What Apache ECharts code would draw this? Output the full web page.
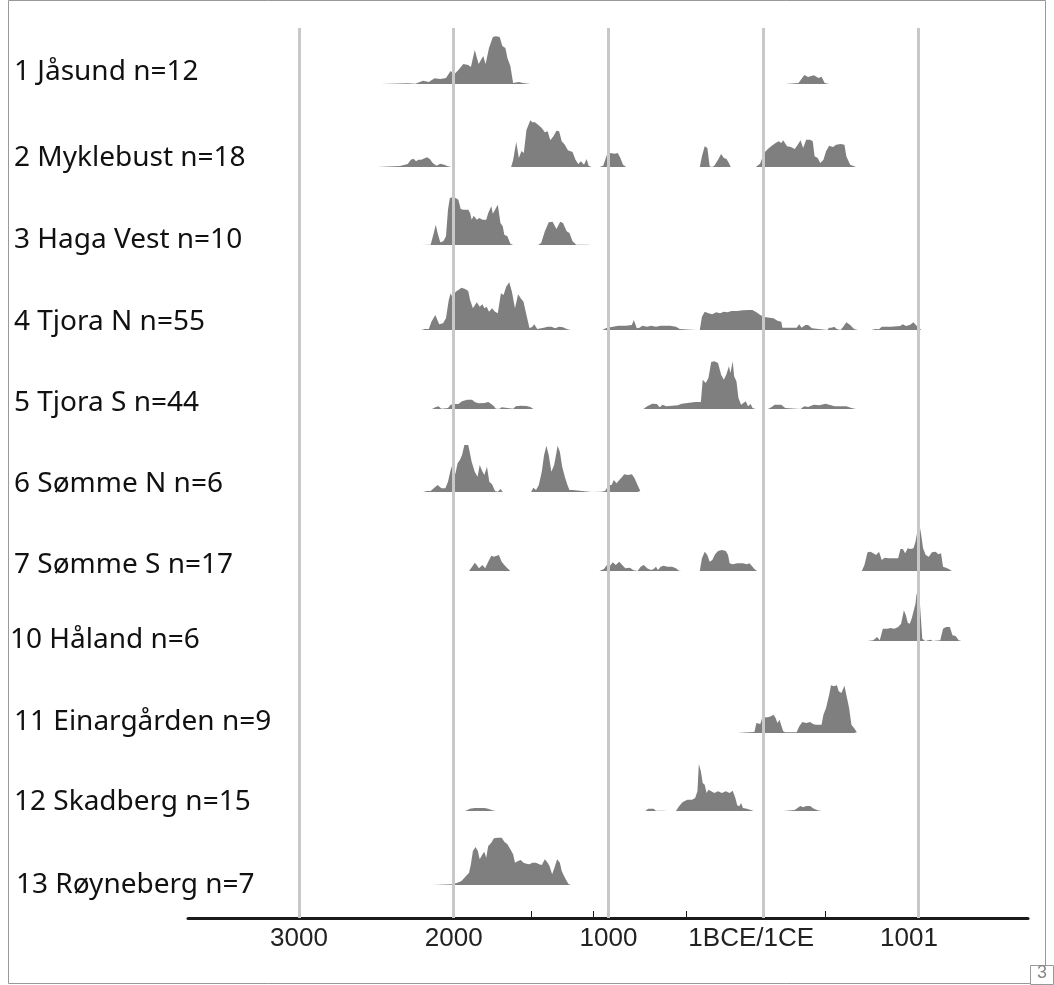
<!DOCTYPE html>
<html><head><meta charset="utf-8">
<script src="https://cdn.jsdelivr.net/npm/echarts@6/dist/echarts.min.js"></script>
<style>html,body{margin:0;padding:0;background:#fff}#c{width:1054px;height:985px}</style>
</head><body><div id="c"></div>
<script>
// ---- DATA (years: negative = BCE, positive = CE; values = relative summed probability) ----
const siteLabels = ['1 Jåsund n=12','2 Myklebust n=18','3 Haga Vest n=10','4 Tjora N n=55','5 Tjora S n=44','6 Sømme N n=6','7 Sømme S n=17','10 Håland n=6','11 Einargården n=9','12 Skadberg n=15','13 Røyneberg n=7'];
const tickValues = [-3000,-2000,-1000,0,1000];
const tickLabels = ['3000','2000','1000','1BCE/1CE','1001'];
const minorTickValues = [-1500,-1100,-500,400];

const jasund = [[-2470,0],[-2297,0.7],[-2248,0.3],[-2198,3.3],[-2161,2],[-2124,5.7],[-2087,5],[-2050,6],[-2020,13],[-1995,10],[-1970,14],[-1938,20],[-1906,19],[-1889,17],[-1864,34],[-1839,20],[-1809,28],[-1794,20],[-1772,36],[-1747,47],[-1728,47.7],[-1703,47],[-1686,38],[-1666,36],[-1653,26],[-1634,18],[-1616,1],[-1579,2],[-1554,1],[-1505,0],
 [142,0],[228,1],[266,9],[290,7],[327,8.7],[357,6],[377,7.3],[397,1],[426,0]];
const myklebust = [[-2495,0],[-2347,1],[-2297,3],[-2277,7.3],[-2260,8.3],[-2243,5.7],[-2228,7.3],[-2210,7.3],[-2198,9],[-2173,9.7],[-2154,8],[-2136,4],[-2111,1.3],[-2087,3.3],[-2062,2.3],[-2037,0.7],[-2012,0],
 [-1629,0],[-1616,7],[-1596,25],[-1579,9],[-1562,16],[-1547,14],[-1530,37],[-1505,46.7],[-1492,44.7],[-1475,44.7],[-1455,42.3],[-1431,39],[-1411,34.7],[-1393,35.7],[-1376,26.7],[-1356,30.7],[-1336,36.3],[-1319,35.7],[-1302,25.7],[-1282,22.3],[-1262,16.7],[-1232,15],[-1213,7.3],[-1195,3],[-1178,5.7],[-1158,2.3],[-1141,8],[-1128,1.3],[-1109,0],
 [-1059,0],[-1034,1.3],[-1010,12.3],[-990,14],[-960,13.3],[-940,14],[-923,9],[-906,2.3],[-886,0],
 [-410,0],[-396,10.7],[-378,20.7],[-361,19],[-346,0.7],[-330,0],[-316,1.3],[-292,7.3],[-272,13],[-254,9],[-237,8],[-222,4],[-210,0],
 [-49,0],[-20,3.3],[5,14],[30,18],[55,21.3],[80,24],[100,25.7],[117,24],[129,26.7],[154,20.7],[179,20],[204,18],[223,22.3],[241,26.7],[258,19],[278,27.3],[303,27.3],[320,25.7],[332,10.7],[352,9],[369,4],[389,7.3],[406,15.7],[426,21.3],[451,20],[471,22.3],[500,23],[525,22.3],[537,10.7],[562,2.3],[600,0]];
const hagaVest = [[-2210,0],[-2149,0.3],[-2129,12],[-2116,20.3],[-2104,12],[-2087,2.7],[-2067,3.7],[-2050,8.7],[-2037,35.3],[-2025,47],[-2005,48],[-1988,47],[-1970,45.3],[-1955,36],[-1938,35.3],[-1906,35.3],[-1894,32],[-1884,25.3],[-1871,29.3],[-1851,25.3],[-1834,27],[-1814,25.3],[-1790,25.3],[-1777,32],[-1757,38.7],[-1747,31.3],[-1733,35.3],[-1715,40.3],[-1698,22],[-1683,18.7],[-1673,10.3],[-1653,8.7],[-1634,1.3],[-1616,0],
 [-1455,0],[-1435,2],[-1411,13.7],[-1386,22.7],[-1361,23.3],[-1336,16],[-1312,23.3],[-1294,22],[-1270,13.7],[-1252,12],[-1232,3.7],[-1208,0.3],[-1134,0.3],[-1120,0]];
const tjoraN = [[-2210,0],[-2186,1],[-2161,1],[-2144,8.3],[-2119,15],[-2094,5.7],[-2069,6.7],[-2050,11.7],[-2032,30],[-2020,36.7],[-2005,31.7],[-1988,38.3],[-1970,40],[-1950,42.3],[-1926,41],[-1906,39],[-1894,30],[-1876,21.7],[-1851,27.7],[-1832,23.3],[-1814,25.7],[-1802,21.7],[-1787,23.3],[-1772,18.3],[-1752,21.7],[-1733,18.3],[-1715,16.7],[-1695,36.7],[-1678,35],[-1661,43.3],[-1641,47.7],[-1624,38.3],[-1604,21.7],[-1584,35.7],[-1567,31.7],[-1549,28.3],[-1530,15],[-1510,1.7],[-1492,3.3],[-1480,5.7],[-1460,1],[-1418,2.3],[-1393,3.3],[-1369,3.3],[-1344,1.7],[-1319,3.3],[-1294,2.7],[-1270,1],[-1245,0],
 [-1040,0],[-1029,0.3],[-1010,2.3],[-972,3.3],[-935,4.3],[-886,4.3],[-849,5],[-836,10],[-817,1.7],[-799,2.3],[-782,4.3],[-750,3.3],[-725,4.3],[-693,3.3],[-663,4.3],[-638,4.3],[-601,4.3],[-564,3.3],[-539,1],[-465,0.3],[-428,0],
 [-410,0],[-396,13.3],[-378,18.3],[-354,16.7],[-329,15.7],[-304,17.7],[-279,16.7],[-254,18.3],[-230,17.7],[-205,19],[-168,19],[-131,19.7],[-94,20],[-69,20],[-44,17.7],[-19,15],[5,13],[43,12.3],[67,11.7],[92,9.3],[117,8.3],[124,2.3],[179,2.3],[216,2.3],[233,5.7],[248,2.3],[273,5],[290,5],[315,1.7],[327,0],
 [414,0],[426,2.3],[443,2.3],[458,3.3],[476,1],[500,0],[517,3.3],[537,7.7],[562,5],[587,1],[612,0],
 [699,0],[724,1],[748,0.7],[766,3.3],[823,3.3],[885,4],[902,5.7],[922,4],[947,5],[971,7.7],[991,4.3],[1008,2.3],[1021,0]];
const tjoraS = [[-2140,0],[-2119,1.7],[-2099,2.7],[-2079,0.3],[-2037,1],[-2020,4.3],[-1995,5],[-1970,5],[-1946,7.7],[-1913,9.3],[-1881,9.3],[-1864,7],[-1839,5.7],[-1827,7],[-1802,6],[-1777,7],[-1757,5],[-1740,2.7],[-1728,0.3],[-1703,0.3],[-1690,1.7],[-1678,0],[-1616,0.3],[-1599,2.7],[-1567,3.3],[-1530,3],[-1505,2],[-1485,0],
 [-774,0],[-750,2.7],[-717,5.3],[-688,5],[-668,1.7],[-651,4.3],[-626,2.7],[-589,3.3],[-552,3.7],[-527,5.3],[-490,6],[-440,7],[-403,7],[-391,29.3],[-371,26],[-354,31],[-336,47],[-316,47.7],[-292,46],[-272,34.3],[-254,29.3],[-237,35],[-222,42.7],[-212,36],[-197,47.7],[-188,32.7],[-173,27.7],[-160,11],[-143,4.3],[-131,2.7],[-113,7.7],[-98,2.7],[-81,5],[-69,1],[-49,0],
 [30,0],[55,2],[74,4.3],[117,4.3],[142,1],[154,0],[241,0],[266,2.7],[290,2],[327,4.3],[364,3.7],[402,5.3],[426,4.3],[463,2.7],[537,2.7],[570,1],[600,0]];
const sommeN = [[-2198,0],[-2173,1],[-2149,1],[-2129,3.7],[-2104,7],[-2079,3.7],[-2054,3.7],[-2037,10.3],[-2020,22],[-2005,28.7],[-1990,17.7],[-1975,28.7],[-1960,32],[-1946,37],[-1931,47],[-1906,47],[-1894,45.3],[-1884,30.3],[-1864,20.3],[-1846,15.3],[-1832,27],[-1814,20.3],[-1802,17],[-1785,25.3],[-1770,10.3],[-1752,7.7],[-1733,1],[-1715,0.3],[-1698,3],[-1683,0],
 [-1500,0],[-1485,4.3],[-1468,2],[-1450,7],[-1431,20.3],[-1416,37],[-1401,46.3],[-1386,37],[-1369,20.3],[-1351,27],[-1339,37],[-1329,46.3],[-1314,40.3],[-1299,25.3],[-1282,15.3],[-1265,7],[-1252,2],[-1232,2],[-1220,0],
 [-1109,0],[-1047,0.3],[-1022,1],[-997,7],[-980,7],[-965,12],[-948,8.7],[-930,12],[-911,15.3],[-898,17.7],[-873,17],[-849,17.7],[-831,13.7],[-812,7],[-794,1],[-782,0]];
const sommeS = [[-1901,0],[-1881,4.3],[-1864,8.3],[-1851,6],[-1837,2.7],[-1814,6],[-1797,2.7],[-1777,9.3],[-1757,15.3],[-1740,14.3],[-1728,16],[-1708,16],[-1690,9.3],[-1673,6],[-1653,2.7],[-1634,0],
 [-1059,0],[-1029,2],[-1010,6],[-990,5.3],[-972,8.7],[-953,6],[-930,9.3],[-911,6],[-891,2.7],[-861,3.3],[-841,1],[-812,0],[-792,4.3],[-772,6],[-750,2.7],[-725,1],[-708,2],[-693,4.3],[-680,1],[-663,4.3],[-643,5.3],[-619,4.3],[-589,4.3],[-564,2.7],[-544,0.3],[-527,0],
 [-410,0],[-396,12.7],[-378,19.3],[-361,16],[-346,9.3],[-329,11],[-311,16.7],[-292,20],[-267,21],[-242,20],[-227,16],[-217,7.7],[-197,6.7],[-168,7.7],[-131,7.7],[-106,6.7],[-89,7.7],[-69,4.3],[-57,2],[-40,0],
 [637,0],[654,6],[674,18.7],[694,19.3],[711,17.7],[729,16],[748,19.3],[766,11],[785,13.3],[810,12.7],[835,12.7],[872,12.7],[887,22],[902,22],[917,17.7],[934,22.7],[951,22],[971,22.7],[984,29.3],[996,39.3],[1008,47.7],[1021,36],[1033,22.7],[1050,16],[1070,14.3],[1090,18.7],[1114,19.3],[1132,16.7],[1149,17.7],[1162,4.3],[1181,3.3],[1199,2],[1219,0]];
const haland = [[674,0],[711,0.7],[736,4],[753,0.7],[773,12.3],[785,14],[802,12.3],[822,13],[847,12.3],[872,14],[891,17.3],[909,30.7],[922,25.7],[934,18.3],[947,17.3],[959,22.3],[971,24],[984,37.3],[991,47.3],[1001,44],[1011,40.7],[1021,39],[1028,2.3],[1046,0],[1058,1.7],[1082,1.3],[1095,0],[1144,0.7],[1162,12.3],[1181,14],[1206,14],[1223,5.7],[1243,5],[1263,0.7],[1281,0]];
const einargarden = [[-168,0],[-94,0.7],[-57,1],[-44,10],[-32,11.7],[-19,9],[-7,15],[11,15.7],[30,15.7],[50,16.7],[67,18.3],[80,15],[92,10],[105,13.3],[117,11.7],[129,1.7],[142,0.7],
 [216,0.7],[233,6.7],[253,11],[278,10],[303,11],[322,9],[340,8.3],[357,8.3],[377,8.3],[389,18.3],[406,25],[426,38.3],[438,47.7],[456,46.7],[476,47.7],[488,41.7],[505,40],[525,47.3],[537,38.3],[555,25],[570,8.3],[587,5],[605,0.7],[615,0]];
const skadberg = [[-1930,0],[-1913,0.7],[-1896,2.3],[-1864,3],[-1802,3],[-1777,2.3],[-1752,0.7],[-1728,0],
 [-762,0],[-743,2.3],[-708,2.3],[-693,0.3],[-670,0.3],[-663,2],[-651,0.3],[-620,0],
 [-564,0],[-544,4.7],[-520,9],[-490,11.3],[-460,11.3],[-440,13],[-425,19.7],[-416,47],[-403,39.7],[-391,28],[-378,26.3],[-366,18],[-354,21.3],[-336,19.7],[-316,18],[-292,19.7],[-267,18],[-242,19.7],[-217,18],[-197,20.3],[-180,13],[-168,5.7],[-155,4.7],[-143,8],[-131,3],[-106,2.3],[-81,1],[-62,0],
 [129,0],[204,1],[228,3.7],[241,5],[258,3.7],[278,5],[303,5],[327,2.3],[352,0.7],[377,0]];
const royneberg = [[-2136,0],[-2012,0.7],[-1975,2.3],[-1950,4],[-1926,8],[-1901,12.3],[-1889,20.7],[-1876,34],[-1859,38],[-1844,34],[-1832,25.7],[-1814,30.7],[-1802,33.3],[-1790,27.3],[-1777,39],[-1757,42.3],[-1740,46.7],[-1715,47.3],[-1690,47.3],[-1673,43.3],[-1653,40.7],[-1634,35.7],[-1616,30.7],[-1604,22.3],[-1584,24],[-1567,25],[-1549,22.3],[-1530,21.3],[-1510,20.7],[-1492,22.3],[-1468,22.3],[-1448,20.7],[-1431,20],[-1411,25.7],[-1393,22.3],[-1381,19],[-1364,10.7],[-1349,17.3],[-1332,25.7],[-1314,22.3],[-1302,14],[-1287,9],[-1270,4],[-1257,0.7],[-1240,0]];

const siteSeries = [jasund,myklebust,hagaVest,tjoraN,tjoraS,sommeN,sommeS,haland,einargarden,skadberg,royneberg];

// ---- LAYOUT ----
const X_MIN = -3717, X_MAX = 1711;
const PLOT_LEFT = 188, PLOT_RIGHT = 26;
const rowBaselines = [84,167,245,330,409,492,571,641,733,811,885];
const rowHeight = 50;
const labelY = [72,158,240,322,403,484,565,640,722,802,885];
const labelX = [14,14,14,14,14,14,14,10,14,14,16];
const labelShift = {0:12, 1000:9};

const grids = [{left:PLOT_LEFT,right:PLOT_RIGHT,top:28,height:890}];
const xAxes = [{gridIndex:0,type:'value',min:X_MIN,max:X_MAX,
  axisLine:{show:true,lineStyle:{color:'#1a1a1a',width:3}},
  axisTick:{show:true,inside:true,length:7,customValues:minorTickValues,lineStyle:{color:'#1a1a1a',width:1}},
  axisLabel:{show:true,customValues:tickValues,margin:8,color:'#222',fontFamily:'Liberation Sans',fontSize:26,
    formatter:v=>{const t=tickLabels[tickValues.indexOf(v)] ?? ''; return labelShift[v] ? '{s'+v+'|'+t+'}' : t;},
    rich:{s0:{padding:[0,24,0,0],fontFamily:'Liberation Sans',fontSize:26,color:'#222'},
          s1000:{padding:[0,18,0,0],fontFamily:'Liberation Sans',fontSize:26,color:'#222'}}},
  splitLine:{show:false}}];
const yAxes = [{gridIndex:0,type:'value',min:0,max:1,show:false}];
const series = [{type:'line',xAxisIndex:0,yAxisIndex:0,data:[],z:1,silent:true,
  markLine:{silent:true,symbol:'none',label:{show:false},animation:false,
    lineStyle:{color:'#c8c8c8',width:3,type:'solid'},
    data:tickValues.map(v=>({xAxis:v}))}}];

siteSeries.forEach((d,i)=>{
  const gi = i+1;
  grids.push({left:PLOT_LEFT,right:PLOT_RIGHT,top:rowBaselines[i]-rowHeight,height:rowHeight});
  xAxes.push({gridIndex:gi,type:'value',min:X_MIN,max:X_MAX,show:false});
  yAxes.push({gridIndex:gi,type:'value',min:0,max:rowHeight,show:false});
  series.push({type:'line',name:siteLabels[i],xAxisIndex:gi,yAxisIndex:gi,data:d,z:3,
    showSymbol:false,silent:true,lineStyle:{width:0},areaStyle:{color:'rgba(0,0,0,0.5)',opacity:1}});
});

const graphics = siteLabels.map((t,i)=>({type:'text',x:labelX[i],y:labelY[i],
  style:{text:t,fill:'#111',font:'28px "Noto Sans"',verticalAlign:'middle',textVerticalAlign:'middle'}}));
// frame
graphics.push({type:'rect',shape:{x:8.5,y:0.5,width:1037,height:983},style:{fill:'none',stroke:'#999',lineWidth:1},z:-1});
graphics.push({type:'rect',shape:{x:1030.5,y:965.5,width:23,height:19},style:{fill:'#fff',stroke:'#999',lineWidth:1}});
graphics.push({type:'text',left:1037,top:964,style:{text:'3',fill:'#888',font:'18px "Liberation Sans"'}});

const chart = echarts.init(document.getElementById('c'),null,{renderer:'canvas'});
chart.setOption({animation:false,backgroundColor:'#fff',grid:grids,xAxis:xAxes,yAxis:yAxes,series:series,graphic:graphics});
</script></body></html>
